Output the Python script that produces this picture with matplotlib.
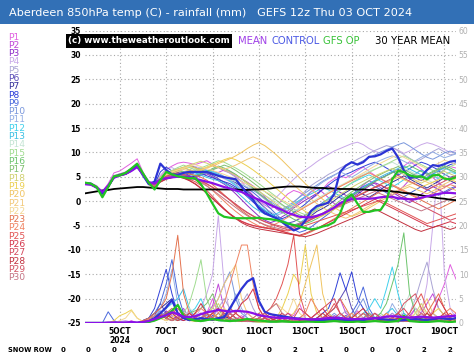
import numpy as np
import matplotlib
matplotlib.use("Agg")
import matplotlib.pyplot as plt
from matplotlib.patches import Rectangle

# ---------------- data ----------------
lead_hours = np.arange(0, 390, 6)          # 6-hourly steps from Oct 3 12z
start_day = 3.5                            # Oct 3 12z as day-of-month
days = start_day + lead_hours / 24.0

tick_days = [5, 7, 9, 11, 13, 15, 17, 19]
tick_labels = ["5OCT\n2024", "7OCT", "9OCT", "11OCT", "13OCT", "15OCT", "17OCT", "19OCT"]

temp_mean = [3.5,3.4,2.8,1.9,3.2,4.8,5.3,5.6,6.2,7.0,5.5,3.9,3.6,
             4.5,4.7,4.9,5.0,5.0,5.0,4.6,4.3,4.0,3.7,3.3,2.9,2.6,
             2.2,1.9,1.3,0.8,0.3,-0.2,-0.8,-1.3,-1.8,-2.4,-2.8,-3.2,-3.3,
             -3.3,-3.0,-2.6,-2.0,-1.3,-0.4,0.1,0.4,0.5,0.5,0.5,0.6,0.8,
             0.9,0.9,0.6,0.5,0.4,0.4,0.7,1.0,1.2,1.5,1.7,1.7,1.6]
temp_control = [3.7,3.6,2.8,1.6,3.0,5.0,5.4,5.7,6.5,7.3,5.3,3.5,4.0,
                7.7,6.4,5.5,5.4,5.8,6.0,6.0,6.0,6.0,5.6,5.2,4.9,4.7,
                4.5,3.0,1.5,0.3,-1.5,-2.5,-3.0,-3.5,-4.3,-5.2,-6.0,-5.5,-4.0,
                -2.0,-1.0,-0.7,-0.3,1.5,6.0,7.3,8.0,7.5,8.0,9.1,9.2,9.6,
                10.3,10.8,9.0,6.3,4.8,4.9,5.1,6.4,7.4,7.2,7.6,8.1,8.3]
temp_gfs_op = [3.8,3.6,2.9,0.8,2.9,5.1,5.3,5.8,6.7,7.7,5.7,3.8,2.4,
               4.3,6.0,5.5,5.1,4.9,4.7,4.7,3.5,1.6,-0.5,-2.5,-3.2,-3.4,
               -3.5,-3.5,-3.5,-3.5,-3.4,-3.6,-3.7,-3.9,-4.2,-4.6,-4.9,-5.2,-5.5,
               -5.8,-5.6,-5.2,-4.9,-4.3,-2.5,0.5,1.4,-0.5,-2.2,-2.2,-1.9,-1.8,
               0.0,4.5,6.2,6.0,5.3,5.0,5.1,4.5,5.3,5.4,4.6,4.5,4.9]
temp_30yr = [1.6,1.8,2.0,2.2,2.3,2.5,2.6,2.7,2.8,2.9,2.9,2.8,2.7,
             2.6,2.5,2.5,2.5,2.4,2.4,2.4,2.4,2.4,2.4,2.4,2.4,2.4,
             2.4,2.3,2.3,2.4,2.4,2.5,2.6,2.8,2.9,3.0,3.0,3.0,2.9,
             2.8,2.7,2.7,2.6,2.6,2.5,2.5,2.5,2.4,2.4,2.3,2.3,2.2,
             2.1,2.0,1.9,1.7,1.6,1.4,1.2,1.0,0.8,0.6,0.5,0.3,0.2]

t01 = [3.8,3.7,3.2,2.0,3.6,5.8,6.2,7.0,7.8,8.7,6.0,3.8,3.4, 5.0,6.5,7.2,7.8,8.0,7.8,7.5,7.9,8.3,7.6,6.9,6.2,5.8, 5.1,4.0,2.6,1.2,0.0,-0.8,-1.5,-1.0,0.3,1.5,2.2,1.8,1.0, 0.4,1.2,2.5,3.8,4.6,5.2,4.8,5.5,6.3,7.0,6.1,5.3,4.6, 3.8,4.5,5.9,7.2,8.1,7.4,6.6,5.5,4.8,5.6,6.5,7.1,6.8]
t02 = [3.5,3.4,2.8,1.7,3.1,5.2,5.6,6.0,6.7,7.6,5.8,3.5,3.0, 4.2,5.0,5.5,6.2,6.8,7.4,7.0,6.3,5.8,5.5,5.9,6.4,6.1, 5.4,4.6,3.9,3.1,2.0,0.9,-0.4,-1.6,-2.4,-2.0,-1.1,-0.2,0.8, 1.9,2.6,1.8,0.7,-0.5,-1.2,-0.4,0.9,2.1,3.3,4.2,3.6,2.8, 1.9,1.2,2.0,3.1,4.4,5.6,6.4,5.8,4.9,3.7,2.9,3.5,4.0]
t03 = [3.4,3.3,2.7,1.5,2.9,4.9,5.3,5.5,6.2,7.0,5.4,3.4,3.1, 4.0,4.6,4.9,5.1,4.8,4.4,4.7,5.3,5.6,5.0,4.2,3.5,2.6, 1.5,0.3,-0.9,-2.0,-3.1,-3.9,-4.4,-4.0,-3.2,-2.5,-1.4,-0.6,0.2, 0.9,1.6,2.4,3.0,2.5,1.8,1.2,0.6,1.4,2.3,3.1,3.8,3.3, 2.6,1.9,1.1,0.4,-0.3,0.5,1.4,2.2,3.0,2.4,1.7,2.3,2.9]
t04 = [3.7,3.6,3.0,1.8,3.2,5.3,5.6,5.9,6.6,7.5,5.9,4.0,3.6, 5.3,6.6,6.9,6.2,5.8,6.4,7.1,6.8,6.2,5.7,5.1,4.6,4.0, 3.3,2.5,1.6,0.9,0.2,-0.6,-0.3,0.8,2.0,3.3,4.5,5.6,6.4, 7.2,8.1,8.9,9.6,10.3,10.8,11.3,11.8,12.1,11.6,10.8,10.2,9.9, 10.4,11.0,10.5,9.8,10.3,11.0,11.6,12.0,11.7,11.2,10.6,10.0,10.4]
t05 = [3.5,3.4,2.9,1.7,3.0,5.0,5.3,5.6,6.3,7.1,5.5,3.7,3.3, 4.6,5.2,5.9,6.5,6.1,5.6,5.2,5.5,6.0,6.6,6.9,6.4,5.7, 4.9,4.1,3.4,2.5,1.4,0.4,-0.5,-1.3,-1.8,-1.2,-0.3,0.9,2.1, 3.2,4.0,4.7,5.5,6.1,6.8,7.4,7.9,8.6,9.2,9.8,10.4,10.9, 11.4,11.1,10.3,9.6,8.8,8.1,8.6,9.3,10.2,10.8,10.1,9.5,9.8]
t06 = [3.6,3.5,2.9,1.6,3.0,5.1,5.4,5.8,6.5,7.2,5.7,3.6,3.3, 4.4,5.1,5.6,5.9,5.6,5.2,5.0,5.4,5.8,5.3,4.6,3.9,3.2, 2.6,2.0,1.1,0.0,-1.0,-1.9,-2.8,-3.5,-4.1,-4.5,-4.2,-3.6,-2.9, -2.0,-1.1,-0.3,0.4,1.1,0.7,0.2,0.9,1.8,2.6,3.4,4.1,4.7, 5.3,5.9,6.5,6.0,5.4,4.8,4.2,4.9,5.6,6.2,5.5,4.9,5.3]
t07 = [3.5,3.4,2.8,1.5,2.8,4.8,5.2,5.5,6.2,7.1,5.5,3.5,3.2, 4.3,5.0,5.4,5.6,5.2,4.9,5.2,5.7,6.1,5.8,5.3,4.9,4.4, 3.8,3.0,2.1,1.0,-0.2,-1.3,-2.4,-3.3,-4.0,-4.6,-5.1,-4.7,-3.9, -3.0,-2.1,-1.5,-0.8,0.1,1.0,1.8,2.5,2.0,1.4,0.8,1.5,2.4, 3.2,3.9,4.5,5.2,4.6,3.9,3.3,2.7,3.4,4.1,4.8,4.2,3.6]
t08 = [3.7,3.6,3.0,1.7,3.1,5.1,5.5,5.8,6.5,7.4,5.8,3.7,3.4, 6.0,7.0,6.2,5.6,5.3,5.6,6.0,5.7,5.2,4.8,4.4,4.0,3.6, 2.9,2.0,0.9,-0.2,-1.2,-2.1,-2.8,-3.2,-3.6,-3.1,-2.3,-1.5,-0.6, 0.5,1.4,2.4,3.3,4.2,4.9,5.5,6.0,6.6,7.1,7.6,8.0,7.5, 6.8,6.1,5.4,5.9,6.7,7.4,8.0,7.6,7.0,6.4,6.9,7.5,7.9]
t09 = [3.6,3.5,2.9,1.8,3.1,5.0,5.4,5.6,6.3,7.2,5.6,3.6,3.3, 4.5,5.2,5.5,5.2,5.0,5.3,5.9,6.3,6.0,5.6,5.3,5.0,4.5, 4.0,3.4,2.7,1.8,0.8,-0.3,-1.5,-2.7,-3.8,-4.9,-5.8,-6.4,-6.0, -5.3,-4.4,-3.5,-2.6,-1.6,-0.6,0.4,1.3,2.2,3.0,3.6,3.0,2.4, 1.7,1.0,0.3,0.9,1.6,2.3,3.0,2.4,1.8,1.2,1.9,2.6,3.1]
t10 = [3.6,3.5,2.9,1.7,3.1,5.1,5.5,5.8,6.5,7.3,5.7,3.7,3.4, 4.7,5.5,6.1,6.6,6.9,6.4,5.9,5.5,5.8,6.2,5.7,5.1,4.6, 4.0,3.5,2.8,2.2,1.5,0.7,-0.1,-0.9,-1.6,-1.0,-0.1,0.8,1.7, 2.5,3.3,4.1,4.8,5.4,6.0,6.6,7.1,7.7,8.3,8.9,9.5,10.1, 10.6,11.1,11.6,12.0,11.3,10.5,9.7,9.0,8.6,9.2,9.9,10.3,9.8]
t11 = [3.5,3.4,2.8,1.6,3.0,5.0,5.4,5.7,6.4,7.2,5.6,3.5,3.1, 4.6,5.4,6.0,5.7,5.4,5.8,6.3,6.7,6.4,5.9,5.4,4.8,4.2, 3.5,2.6,1.6,0.6,-0.4,-1.4,-2.2,-2.9,-2.5,-1.8,-0.9,0.0,1.0, 2.0,3.0,3.9,4.6,5.3,6.0,5.5,4.9,5.6,6.4,7.1,7.8,8.4, 8.9,9.3,8.8,8.2,7.6,8.3,9.0,9.6,10.1,9.5,8.9,9.3,9.7]
t12 = [3.6,3.5,2.9,1.6,3.0,5.0,5.4,5.7,6.4,7.3,5.7,3.7,3.3, 4.2,4.9,5.3,5.6,5.3,5.0,5.4,5.9,6.3,6.0,5.5,4.9,4.1, 3.2,2.2,1.1,0.1,-0.9,-1.8,-2.6,-3.3,-3.9,-4.4,-4.9,-4.5,-3.6, -2.6,-1.5,-0.4,0.6,1.5,2.3,3.0,3.7,4.3,4.9,5.4,4.8,4.1, 3.5,2.9,3.6,4.4,5.1,5.7,6.3,5.8,5.2,4.6,5.3,6.0,5.6]
t13 = [3.5,3.4,2.8,1.7,3.0,5.0,5.3,5.6,6.3,7.2,5.6,3.6,3.2, 4.5,5.0,5.2,5.5,5.9,6.2,5.8,5.3,4.9,4.5,4.2,3.7,3.0, 2.1,1.0,-0.1,-1.2,-2.0,-2.6,-3.0,-2.6,-2.0,-1.4,-0.6,0.2,0.9, 1.5,2.1,2.8,2.3,1.7,1.1,0.5,1.2,2.0,2.8,3.6,4.3,5.0, 5.6,6.1,6.7,7.2,6.6,6.0,5.4,4.8,5.5,6.2,6.8,6.3,5.8]
t14 = [3.6,3.5,3.0,1.8,3.1,5.1,5.5,5.8,6.4,7.3,5.7,3.7,3.3, 4.8,5.6,6.0,6.3,6.7,7.0,6.7,6.3,5.9,5.6,5.2,4.8,4.4, 4.0,3.5,3.0,2.4,1.8,1.2,0.5,-0.2,-0.9,-1.5,-2.0,-1.6,-1.0, -0.3,0.5,1.2,1.9,2.6,3.2,3.8,4.4,5.0,5.5,6.1,6.6,7.0, 7.5,8.0,7.4,6.8,6.2,5.6,5.0,4.4,3.8,4.5,5.2,5.8,6.3]
t15 = [3.7,3.6,3.0,1.5,3.0,5.2,5.6,5.9,6.6,7.5,5.9,3.8,3.5, 5.0,5.8,6.3,6.9,7.4,6.9,6.4,6.8,7.3,7.8,8.3,8.0,7.4, 6.8,6.1,5.3,4.5,3.6,2.7,1.8,0.9,0.0,-0.8,-1.6,-2.3,-2.8, -2.2,-1.4,-0.5,0.4,1.3,2.2,3.0,3.8,4.5,5.2,5.9,6.5,7.1, 7.6,8.2,8.8,9.3,8.7,8.1,7.5,6.9,6.3,5.7,6.4,7.1,7.6]
t16 = [3.5,3.4,2.8,1.4,2.9,4.9,5.3,5.6,6.3,7.2,5.5,3.5,3.1, 4.3,5.1,5.7,6.3,6.0,5.6,5.2,5.6,6.1,6.7,7.2,6.8,6.2, 5.5,4.6,3.7,2.7,1.6,0.6,-0.4,-1.3,-2.2,-3.0,-3.7,-4.2,-4.6, -4.2,-3.6,-2.9,-2.1,-1.3,-0.5,0.3,1.1,1.9,2.6,3.3,4.0,4.6, 5.2,5.8,6.3,6.8,7.3,6.7,6.1,5.5,6.1,6.7,7.3,6.8,6.2]
t17 = [3.6,3.5,2.9,1.5,2.9,5.0,5.4,5.7,6.4,7.2,5.6,3.6,3.2, 4.4,5.2,5.8,6.4,6.9,7.3,6.9,6.4,6.0,6.4,6.9,7.4,7.0, 6.3,5.5,4.7,3.8,2.9,2.0,1.1,0.2,-0.7,-1.5,-2.2,-2.8,-3.3, -3.7,-3.2,-2.5,-1.7,-0.8,0.1,1.0,1.9,2.7,3.5,4.2,4.9,5.5, 6.1,6.6,7.1,6.5,5.9,5.3,4.7,5.3,5.9,6.5,7.0,6.4,5.9]
t18 = [3.7,3.6,3.0,1.7,3.1,5.1,5.5,5.8,6.5,7.4,5.8,3.8,3.4, 4.9,5.7,6.2,6.6,7.0,7.4,7.8,8.2,7.8,7.3,6.9,6.4,5.9, 5.3,4.6,3.8,3.0,2.1,1.2,0.3,-0.6,-1.5,-2.3,-3.0,-3.6,-3.1, -2.5,-1.8,-1.0,-0.2,0.6,1.4,2.1,2.8,3.5,4.1,4.7,5.2,5.7, 6.2,6.7,6.1,5.5,4.9,4.3,3.7,4.3,4.9,5.5,6.1,5.6,5.1]
t19 = [3.6,3.5,2.9,1.6,3.0,5.0,5.4,5.7,6.4,7.3,5.7,3.6,3.3, 4.6,5.4,6.0,6.5,6.9,6.5,6.1,6.5,7.0,7.5,8.0,8.5,8.9, 8.5,7.9,7.2,6.4,5.5,4.6,3.6,2.6,1.6,0.6,-0.4,-1.3,-2.1, -2.8,-3.4,-3.0,-2.4,-1.7,-1.0,-0.3,0.4,1.1,1.7,2.3,2.9,3.4, 3.9,4.4,4.9,4.4,3.9,3.4,2.9,3.4,3.9,4.4,4.9,4.4,4.0]
t20 = [3.6,3.5,2.9,1.6,3.0,5.1,5.5,5.8,6.5,7.3,5.7,3.7,3.3, 4.5,5.3,5.9,6.4,6.8,7.2,6.8,6.4,6.8,7.2,7.7,8.2,8.7, 9.3,10.0,10.8,11.5,12.0,11.4,10.5,9.5,8.4,7.2,6.0,4.8,3.6, 2.5,1.4,0.4,-0.5,-1.3,-2.0,-2.6,-3.1,-2.7,-2.1,-1.4,-0.7,0.0, 0.7,1.3,1.9,2.5,3.0,2.5,2.0,1.5,2.1,2.7,3.2,2.7,2.2]
t21 = [3.5,3.4,2.8,1.6,3.0,5.0,5.4,5.6,6.3,7.2,5.6,3.6,3.2, 4.4,5.1,5.6,6.1,6.5,6.2,5.9,6.3,6.8,7.3,7.0,6.6,6.9, 7.4,8.0,8.6,9.1,8.6,7.9,7.1,6.2,5.3,4.3,3.3,2.3,1.3, 0.4,-0.5,-1.3,-2.0,-2.6,-3.1,-3.5,-3.0,-2.4,-1.7,-1.0,-0.3,0.4, 1.1,1.7,2.3,2.9,3.4,3.9,4.4,3.9,3.4,2.9,3.5,4.1,4.6]
t22 = [3.7,3.6,3.0,1.7,3.1,5.2,5.5,5.9,6.6,7.4,5.8,3.8,3.4, 4.7,5.5,6.0,6.4,6.8,7.2,7.5,7.1,6.7,6.3,5.9,5.5,5.0, 4.5,4.0,3.5,3.0,2.5,2.0,1.4,0.8,0.2,-0.4,-1.0,-1.6,-1.1, -0.5,0.2,0.9,1.6,2.3,3.0,3.7,4.4,5.1,5.8,6.5,7.2,7.8, 8.4,9.0,9.5,9.0,8.4,7.8,7.2,6.6,7.2,7.8,8.4,8.0,7.5]
t23 = [3.6,3.5,2.9,1.6,3.0,5.0,5.4,5.7,6.4,7.3,5.7,3.6,3.2, 4.3,5.0,5.3,5.6,5.9,5.6,5.3,4.9,4.3,3.4,2.4,1.3,0.2, -0.9,-1.9,-2.8,-3.6,-4.3,-4.9,-5.4,-5.8,-6.2,-6.6,-6.9,-7.2,-6.8, -6.3,-5.7,-5.0,-4.3,-3.6,-2.9,-2.2,-1.5,-0.8,-0.1,0.6,1.3,2.0, 2.6,3.2,2.6,2.0,1.4,0.8,0.2,-0.4,-1.0,-1.6,-1.0,-0.4,0.2]
t24 = [3.5,3.4,2.8,1.5,2.9,4.9,5.3,5.6,6.3,7.1,5.5,3.5,3.1, 4.2,4.8,5.2,5.5,5.3,5.0,4.6,4.0,3.2,2.2,1.1,0.0,-1.1, -2.1,-3.0,-3.8,-4.5,-5.1,-5.5,-5.1,-4.6,-4.0,-3.3,-2.6,-1.9,-1.2, -0.5,0.2,0.9,1.6,2.3,3.0,3.6,4.2,4.8,5.3,5.8,5.2,4.6, 4.0,3.4,2.8,2.2,1.6,1.0,0.4,1.0,1.6,2.2,2.8,3.4,3.0]
t25 = [3.6,3.5,2.9,1.6,3.0,5.0,5.4,5.7,6.4,7.3,5.6,3.6,3.2, 4.1,4.7,5.0,5.2,4.9,4.5,4.0,3.2,2.2,1.0,-0.3,-1.5,-2.6, -3.5,-4.2,-4.7,-5.0,-5.2,-5.4,-5.6,-5.8,-6.0,-6.1,-5.8,-5.4,-5.0, -4.6,-4.2,-3.8,-3.4,-3.0,-2.6,-2.2,-1.8,-1.4,-1.0,-0.6,-0.2,0.2, -0.4,-1.0,-1.6,-2.2,-2.8,-3.4,-4.0,-4.6,-4.2,-3.8,-3.4,-3.0,-2.6]
t26 = [3.5,3.4,2.8,1.5,2.9,4.9,5.3,5.5,6.2,7.1,5.5,3.5,3.1, 4.0,4.6,4.9,5.1,4.8,4.3,3.6,2.7,1.7,0.6,-0.5,-1.6,-2.6, -3.4,-4.1,-4.6,-5.0,-5.3,-5.5,-5.7,-5.9,-6.2,-6.5,-6.8,-7.0,-6.6, -6.1,-5.6,-5.0,-4.4,-3.8,-3.2,-2.6,-2.0,-1.4,-0.8,-0.2,0.4,-0.2, -0.8,-1.4,-2.0,-2.6,-3.2,-3.8,-4.4,-5.0,-5.4,-5.0,-4.6,-4.2,-4.6]
t27 = [3.6,3.5,2.9,1.6,3.0,5.0,5.4,5.7,6.4,7.3,5.7,3.7,3.3, 4.4,5.1,5.5,5.8,5.5,5.1,4.7,4.2,3.6,2.9,2.1,1.2,0.3, -0.6,-1.5,-2.3,-3.0,-3.6,-4.2,-4.7,-5.1,-5.5,-5.9,-5.5,-5.0,-4.4, -3.8,-3.2,-2.6,-2.0,-1.4,-0.8,-0.2,0.4,1.0,1.6,2.2,2.8,3.3, 2.7,2.1,1.5,0.9,0.3,-0.3,-0.9,-1.5,-2.1,-2.7,-3.3,-3.9,-3.5]
t28 = [3.5,3.4,2.8,1.5,2.9,4.9,5.3,5.6,6.2,7.0,5.4,3.4,3.0, 3.9,4.5,4.8,5.0,4.7,4.2,3.5,2.6,1.6,0.5,-0.6,-1.7,-2.7, -3.6,-4.4,-5.0,-5.4,-5.7,-5.9,-6.1,-6.3,-6.5,-6.7,-6.9,-7.1,-7.3, -7.0,-6.6,-6.1,-5.6,-5.1,-4.6,-4.1,-3.6,-3.1,-2.6,-2.1,-1.6,-2.2, -2.8,-3.4,-4.0,-4.6,-5.2,-5.8,-6.2,-5.8,-5.4,-5.0,-5.4,-5.8,-5.4]
t29 = [3.6,3.5,2.9,1.6,3.0,5.0,5.4,5.7,6.4,7.2,5.6,3.6,3.2, 4.3,5.0,5.4,5.7,5.4,5.0,4.6,4.1,3.5,2.8,2.0,1.1,0.2, -0.7,-1.6,-2.4,-3.1,-3.7,-4.2,-4.6,-4.9,-5.2,-5.5,-5.2,-4.8,-4.3, -3.7,-3.1,-2.5,-1.9,-1.3,-0.7,-0.1,0.5,1.1,1.7,2.3,2.9,3.5, 4.1,4.7,5.3,4.7,4.1,3.5,2.9,2.3,2.9,3.5,4.1,4.7,5.2]
t30 = [3.5,3.4,2.8,1.5,2.9,4.9,5.3,5.6,6.3,7.1,5.5,3.5,3.1, 4.2,4.9,5.3,5.6,5.3,4.9,4.4,3.8,3.1,2.3,1.4,0.5,-0.4, -1.3,-2.2,-3.0,-3.7,-4.3,-4.8,-5.2,-5.5,-5.8,-5.4,-5.0,-4.5,-4.0, -3.5,-3.0,-2.5,-2.0,-1.5,-1.0,-0.5,0.0,0.5,1.0,1.5,2.0,1.5, 1.0,0.5,0.0,-0.5,-1.0,-1.5,-2.0,-1.5,-1.0,-0.5,0.0,0.5,1.0]

rain_mean = [0,0,0,0,0.1,0.1,0.1,0.1,0.2,0.1,0.2,0.4,0.8, 1.2,1.6,2.2,1.8,1.3,1.2,1.4,1.8,2.2,2.4,2.7,2.5,2.3, 2.5,2.4,2.3,2.0,1.6,1.4,1.2,1.1,1.0,1.0,0.9,0.8,0.8, 0.7,0.8,0.9,1.0,1.1,1.0,0.9,0.8,0.8,0.9,0.9,1.0,1.1, 1.3,1.4,1.3,1.2,1.1,1.2,1.3,1.2,1.1,1.2,1.3,1.4,1.5]
rain_control = [0,0,0,0,0,0,0,0,0,0,0.1,0.3,1.0, 2.0,3.2,4.7,2.0,1.0,0.6,0.8,1.0,0.8,0.7,1.0,1.2,3.0, 5.0,7.0,8.5,9.2,4.5,2.3,1.8,1.6,1.4,1.2,1.0,0.9,0.8, 0.7,0.6,0.6,0.7,0.8,0.7,0.6,0.6,0.5,0.6,0.8,1.0,0.8, 0.7,0.6,0.5,0.6,0.7,0.8,0.7,0.6,0.8,1.0,0.9,0.8,1.0]
rain_gfs_op = [0,0,0,0,0,0,0,0,0,0,0.1,0.2,0.5, 1.0,1.6,2.5,3.7,1.5,0.8,0.5,0.4,0.6,0.8,0.6,0.5,0.4, 0.5,0.6,0.8,0.6,0.5,0.4,0.3,0.3,0.4,0.3,0.2,0.2,0.3, 0.3,0.2,0.2,0.3,0.4,0.3,0.2,0.2,0.3,0.2,0.3,0.4,0.3, 0.2,0.3,0.4,1.5,0.4,0.3,0.2,0.2,0.3,0.4,0.3,0.2,0.3]

r01 = [0,0,0,0,0,0.3,0,0,0.5,0,0,0,0.8, 1.5,2.0,1.0,0.5,1.2,2.5,1.0,0.5,2.0,5.0,2.0,1.0,0.5, 0.8,1.5,0.5,0.2,0.5,1.0,0.5,0.3,1.0,2.0,1.5,4.0,1.0, 0.5,0.3,0.8,1.5,0.5,0.2,0.5,1.0,2.5,1.0,0.5,0.3,0.8, 1.5,0.5,0.2,0.5,1.0,3.0,2.0,1.0,2.5,5.0,8.0,12.0,9.0]
r02 = [0,0,0,0,0,0,0,0.2,0,0,0,0.5,1.0, 2.0,1.0,0.5,1.5,3.0,1.0,0.5,1.0,2.0,3.5,8.0,3.0,1.0, 0.5,1.0,2.0,1.0,0.3,0.2,0.5,1.0,0.5,0.3,0.5,1.0,0.5, 0.2,0.5,1.0,2.0,3.0,5.0,2.0,1.0,0.5,1.0,0.5,0.3,0.5, 1.0,2.0,1.0,0.5,1.5,3.0,2.0,4.0,6.0,3.0,1.5,1.0,2.0]
r03 = [0,0,0,0,0,0,0,0,0,0,0.3,0.5,0.8, 1.0,2.5,1.5,0.8,0.5,1.0,2.0,1.0,0.5,1.5,3.0,1.5,0.8, 0.5,0.3,0.5,1.0,0.5,0.2,0.1,0.3,0.5,0.2,0.1,0.3,0.5, 1.0,0.5,0.3,0.8,1.5,1.0,0.5,0.3,0.5,1.0,2.0,1.0,0.5, 0.3,0.5,1.0,0.5,0.3,1.0,2.0,1.0,0.5,0.8,1.5,1.0,0.5]
r04 = [0,0,0,0,0,0,0.3,0.5,0.2,0,0,0.3,0.5, 1.0,0.5,1.5,2.0,1.0,0.5,1.0,3.0,6.0,10.0,22.0,8.0,2.0, 1.0,0.5,0.3,0.5,1.0,0.5,0.2,0.1,0.3,0.5,0.3,0.2,0.5, 1.0,2.0,1.0,0.5,0.3,0.5,1.0,0.5,0.3,0.5,1.0,2.0,1.5, 0.8,0.5,1.0,2.0,1.0,0.5,2.0,8.0,20.0,33.0,10.0,3.0,1.0]
r05 = [0,0,0,0,0,0,0,0,0,0,0,0.2,0.5, 1.5,1.0,0.5,1.0,2.5,1.5,0.5,1.0,2.0,1.0,3.0,5.0,3.0, 2.0,4.0,6.0,3.0,1.0,0.5,0.3,0.5,1.0,0.5,0.3,0.2,0.5, 0.3,1.0,0.5,0.3,0.5,1.5,2.5,1.0,0.5,0.3,1.0,0.5,0.3, 1.0,2.0,1.0,0.5,2.0,5.0,9.0,12.5,7.0,3.0,1.5,1.0,0.5]
r06 = [0,0,0,0,0,0,0,0,0,0,0.2,0.5,1.5, 4.0,2.0,1.0,0.5,1.0,2.0,1.0,0.5,0.8,1.5,1.0,0.5,0.3, 0.5,1.0,0.5,0.3,0.2,0.5,0.3,0.2,0.1,0.3,0.5,1.0,0.5, 0.3,0.5,1.0,2.0,3.0,5.0,7.0,3.0,1.0,0.5,0.3,0.5,1.0, 0.5,0.3,0.5,1.0,0.5,0.3,0.5,1.0,2.0,1.0,0.5,0.3,0.5]
r07 = [0,0,0,0,0,0,0,0,0,0,0.5,1.0,2.0, 3.0,4.0,5.0,2.0,1.0,0.5,1.0,2.0,1.0,0.5,1.0,1.5,0.8, 0.5,0.3,0.5,1.0,0.5,0.3,0.2,0.1,0.2,0.3,0.5,0.3,0.2, 0.5,1.0,0.5,0.3,0.5,1.0,1.5,1.0,0.5,0.3,0.5,1.0,0.5, 0.3,0.5,1.0,1.5,1.0,0.5,0.3,0.5,1.0,0.5,0.3,0.5,0.8]
r08 = [0,0,0,0,0,0,0,0,0,0,0.5,1.0,3.0, 7.0,11.0,6.0,2.0,1.0,0.5,1.0,2.0,1.5,1.0,0.5,1.0,2.0, 1.0,0.5,0.3,0.5,1.0,0.5,0.3,0.5,1.0,0.5,0.3,0.5,1.0, 0.5,1.0,2.0,3.0,6.0,10.3,6.8,10.5,5.0,3.0,1.0,0.5,0.3, 0.5,1.0,2.0,1.0,0.5,0.3,0.5,1.0,0.5,0.3,0.5,1.0,0.5]
r09 = [0,0,0,0,2.3,0.5,0,0,0,0,0.5,1.0,2.0, 4.0,8.0,13.0,6.0,2.0,1.0,0.5,1.0,2.0,1.0,0.5,0.3,0.5, 1.0,0.5,0.3,0.5,0.2,0.1,0.3,0.5,0.3,0.2,0.5,1.0,0.5, 0.3,0.5,1.0,0.5,0.3,0.5,1.0,2.0,4.0,7.4,3.0,1.0,0.5, 0.3,0.5,1.0,0.5,0.3,0.5,1.0,0.5,0.3,0.5,1.0,0.5,0.3]
r10 = [0,0,0,0,0,0,0,0,0,0,0.3,0.8,1.5, 2.5,1.0,0.5,1.0,2.0,1.0,0.5,1.0,2.0,3.0,5.0,8.0,10.5, 5.0,2.0,1.0,0.5,0.3,0.5,1.0,0.5,0.3,0.2,0.3,0.5,1.0, 0.5,0.3,0.5,1.0,2.0,1.0,0.5,1.0,3.0,5.0,2.0,1.0,0.5, 0.3,0.5,1.0,2.0,1.0,0.5,0.3,0.5,1.0,0.5,0.3,0.5,1.0]
r11 = [0,0,0,0,0,0,0,0,0,0,0.3,0.5,1.0, 3.0,6.0,11.0,4.0,1.5,1.0,0.5,1.0,1.5,1.0,0.5,1.0,2.0, 6.0,3.0,1.0,0.5,0.3,0.5,0.3,0.2,0.5,0.3,0.2,0.5,0.3, 0.5,1.0,0.5,0.3,0.5,1.0,0.5,0.3,0.5,1.0,2.0,1.0,0.5, 1.0,4.0,2.0,1.0,0.5,0.3,0.5,1.0,0.5,0.3,0.5,1.0,0.5]
r12 = [0,0,0,0,0,0,0,0,0,0,0.2,0.5,0.8, 1.5,2.0,1.0,0.5,1.0,2.0,3.0,5.0,2.0,1.0,0.5,1.0,0.5, 0.3,0.5,1.0,0.5,0.3,0.2,0.1,0.3,0.5,0.3,0.2,0.3,0.5, 1.0,0.5,0.3,0.5,1.0,0.5,0.3,0.5,1.0,2.0,3.0,5.0,3.0, 7.0,11.5,6.0,2.0,1.0,0.5,0.3,0.5,1.0,0.5,0.3,0.5,1.0]
r13 = [0,0,0,0,0,0,0,0,0,0,0.3,0.5,1.0, 2.0,3.0,4.0,5.0,7.0,3.0,1.0,0.5,1.0,2.0,1.0,0.5,0.3, 0.5,1.0,0.5,0.3,0.2,0.3,0.5,0.3,0.2,0.5,1.0,0.5,0.3, 0.2,0.5,1.0,2.0,1.0,0.5,0.3,0.5,1.0,0.5,0.3,0.5,1.0, 2.0,3.0,1.5,1.0,0.5,0.3,0.5,1.0,0.5,0.3,0.5,0.8,0.5]
r14 = [0,0,0,0,0,0,0,0,0,0,0,0.3,0.5, 1.0,2.0,1.0,0.5,1.0,3.0,2.0,1.0,0.5,1.0,0.5,0.3,0.5, 1.0,0.5,0.3,0.2,0.3,0.5,0.3,0.2,0.1,0.3,0.5,0.3,0.2, 0.3,0.5,1.0,0.5,0.3,0.5,1.0,2.0,1.0,0.5,0.3,0.5,1.0, 0.5,0.3,0.5,3.0,6.0,3.0,1.0,0.5,0.3,0.5,1.0,0.5,0.3]
r15 = [0,0,0,0,0,0,0,0,0,0,0.3,0.5,1.0, 2.0,1.0,0.5,1.0,2.0,4.0,8.0,13.0,5.0,2.0,1.0,0.5,0.3, 0.5,1.0,0.5,0.3,0.2,0.3,0.5,0.3,0.2,0.1,0.3,0.5,0.3, 0.2,0.3,0.5,1.0,0.5,0.3,0.5,1.0,0.5,0.3,0.5,1.0,2.0, 1.0,0.5,0.3,0.5,1.0,0.5,0.3,0.5,1.0,0.5,0.3,0.5,0.8]
r16 = [0,0,0,0,0,0,0,0,0,0,0.2,0.5,0.8, 1.5,1.0,0.5,1.0,2.0,1.0,0.5,0.3,0.5,1.0,2.0,1.0,0.5, 0.3,0.5,1.0,0.5,0.3,0.2,0.3,0.5,0.3,0.2,0.1,0.3,0.5, 0.3,0.2,0.5,1.0,0.5,0.3,0.5,1.0,0.5,0.3,0.5,1.0,2.0, 4.0,8.0,12.0,18.5,6.0,2.0,1.0,0.5,0.3,0.5,1.0,0.5,0.3]
r17 = [0,0,0,0,0,0,0,0,0,0,0.3,0.5,0.5, 1.0,1.5,1.0,0.5,1.0,2.0,2.5,3.0,4.0,6.0,3.0,1.0,0.5, 0.5,0.3,0.5,1.0,0.5,0.3,0.2,0.1,0.2,0.3,0.5,0.3,0.2, 0.5,1.0,0.5,0.3,0.5,1.0,0.5,0.3,0.5,1.0,2.0,1.0,0.5, 0.3,0.5,1.0,0.5,0.3,0.5,1.0,2.0,1.0,0.5,0.3,0.5,1.0]
r18 = [0,0,0,0,0,0,0,0,0,0,0.2,0.3,0.5, 1.0,0.5,1.0,2.0,1.0,0.5,1.0,2.0,1.0,2.0,4.0,2.0,1.0, 0.5,0.3,0.5,0.3,0.2,0.1,0.3,0.5,1.0,0.5,0.3,0.2,0.3, 0.5,0.3,0.2,0.5,1.0,0.5,0.3,0.5,1.0,2.0,1.0,0.5,0.3, 0.5,1.0,0.5,0.3,0.5,2.0,4.0,2.0,1.0,0.5,0.3,0.5,0.8]
r19 = [0,0,0,0,0,0.5,1.5,2.0,2.7,1.0,0.3,0.5,0.8, 1.5,1.0,0.5,1.0,2.0,1.0,0.5,1.0,2.0,1.0,0.5,3.0,2.0, 1.0,0.5,0.3,0.5,1.0,0.5,0.3,1.0,3.0,6.0,10.0,8.0,16.0, 6.0,2.0,1.0,0.5,0.3,0.5,1.0,0.5,0.3,0.5,1.0,0.5,0.3, 0.5,1.0,2.0,1.0,0.5,0.3,0.5,1.0,2.0,3.0,1.5,1.0,0.5]
r20 = [0,0,0,0,0,0,0,0,0,0,0,0.3,0.5, 1.0,0.5,1.0,2.0,1.0,0.5,0.3,0.5,1.0,2.0,1.0,0.5,0.3, 0.5,1.0,0.5,0.3,0.2,0.5,1.0,0.5,0.3,1.0,2.0,4.0,8.0, 12.0,16.0,6.0,2.0,1.0,0.5,0.3,0.5,1.0,0.5,0.3,0.5,1.0, 2.0,1.0,0.5,0.3,0.5,1.0,2.0,1.0,0.5,0.3,0.5,1.0,0.5]
r21 = [0,0,0,0,0,0,0,0,0,0,0.2,0.5,1.0, 2.0,1.0,0.5,1.0,2.0,1.0,0.5,1.0,2.0,3.0,5.0,8.0,10.0, 12.0,5.0,2.0,1.0,0.5,0.3,0.5,1.0,0.5,0.3,0.5,1.0,2.0, 1.0,0.5,0.3,0.5,1.0,0.5,0.3,0.5,1.0,2.0,1.0,0.5,0.3, 0.5,1.0,0.5,0.3,0.5,1.0,3.0,5.0,2.0,1.0,0.5,0.3,0.5]
r22 = [0,0,0,0,0,0,0.5,1.0,2.5,1.0,0.3,0.5,0.5, 1.0,0.5,1.0,2.0,1.0,0.5,1.0,2.0,1.0,0.5,1.0,3.0,2.0, 1.0,0.5,0.3,0.5,1.0,2.0,3.0,4.0,3.0,2.0,5.0,2.0,1.0, 0.5,0.3,0.5,1.0,0.5,0.3,0.5,1.0,2.0,1.0,0.5,0.3,0.5, 1.0,0.5,0.3,0.5,1.0,2.0,3.0,2.0,1.0,0.5,0.3,0.5,0.8]
r23 = [0,0,0,0,0,0,0,0,0,0,0.5,1.0,2.0, 3.0,5.0,10.0,18.0,6.0,2.0,1.0,0.5,1.0,2.0,1.0,0.5,1.0, 2.0,1.0,0.5,0.3,0.5,1.0,2.0,1.0,0.5,0.3,0.5,1.0,0.5, 0.3,0.5,1.0,2.0,3.0,5.0,3.0,1.0,0.5,0.3,0.5,1.0,0.5, 0.3,0.5,1.0,0.5,0.3,0.5,1.0,2.0,4.0,6.0,3.0,1.0,0.5]
r24 = [0,0,0,0,0,0,0,0,0,0,0.3,0.8,1.5, 2.0,1.0,0.5,1.0,2.0,1.0,2.0,3.0,2.0,1.0,2.0,4.0,8.0, 12.0,16.0,16.0,8.0,3.0,1.0,0.5,1.0,2.0,1.0,0.5,1.0,2.0, 5.0,3.0,1.0,0.5,0.3,0.5,1.0,2.0,1.0,0.5,0.3,0.5,1.0, 2.0,1.0,0.5,0.3,0.5,1.0,2.0,1.0,0.5,1.0,2.0,3.0,2.0]
r25 = [0,0,0,0,0,0,0,0,0,0,0.3,0.5,1.0, 1.5,1.0,2.0,3.0,1.5,1.0,0.5,1.0,2.0,1.0,0.5,1.0,2.0, 1.0,0.5,0.3,0.5,1.0,2.0,3.0,5.0,8.0,12.0,18.0,6.0,2.0, 1.0,0.5,1.0,2.0,4.0,2.0,1.0,0.5,0.3,0.5,1.0,2.0,1.0, 0.5,0.3,0.5,1.0,2.0,4.0,6.0,3.0,1.0,0.5,1.0,2.0,1.0]
r26 = [0,0,0,0,0,0,0,0,0,0,0.3,0.5,0.8, 1.0,2.0,1.0,0.5,1.0,2.0,1.0,0.5,1.0,2.0,3.0,2.0,1.0, 2.0,4.0,5.0,7.0,3.0,1.0,0.5,1.0,2.0,1.0,0.5,0.3,0.5, 1.0,2.0,3.0,1.5,1.0,0.5,0.3,0.5,1.0,2.0,1.0,0.5,0.3, 0.5,1.0,2.0,1.0,0.5,0.3,0.5,1.0,2.0,5.0,3.0,1.0,0.5]
r27 = [0,0,0,0,0,0,0,0,0,0,0.2,0.5,1.0, 2.0,1.0,0.5,1.0,2.0,1.0,0.5,1.0,2.0,1.0,0.5,1.0,3.0, 2.0,1.0,0.5,0.3,0.5,1.0,0.5,0.3,1.0,2.0,1.0,3.0,2.0, 1.0,2.0,3.0,4.0,5.0,2.0,1.0,0.5,0.3,0.5,1.0,0.5,0.3, 0.5,1.0,2.0,3.0,1.5,1.0,0.5,0.3,0.5,1.0,2.0,1.0,0.5]
r28 = [0,0,0,0,0,0,0,0,0,0,0.3,0.5,1.0, 1.5,1.0,2.0,1.0,0.5,1.0,2.0,4.0,2.0,1.0,0.5,1.0,2.0, 1.0,0.5,0.3,0.5,1.0,2.0,1.0,0.5,0.3,0.5,1.0,0.5,0.3, 0.5,1.0,2.0,1.0,0.5,0.3,0.5,1.0,2.0,3.0,1.5,1.0,0.5, 0.3,0.5,1.0,0.5,0.3,0.5,1.0,2.0,1.0,0.5,0.3,0.5,1.0]
r29 = [0,0,0,0,0,0,0,0,0,0,0.2,0.5,0.8, 1.0,2.0,3.0,1.5,1.0,0.5,1.0,2.0,1.0,0.5,1.0,2.0,1.0, 0.5,0.3,0.5,1.0,2.0,1.0,0.5,0.3,0.5,1.0,0.5,0.3,0.5, 1.0,0.5,0.3,0.5,1.0,2.0,1.0,0.5,0.3,0.5,1.0,2.0,1.0, 0.5,1.0,2.0,4.0,5.0,6.0,3.0,1.0,0.5,0.3,0.5,1.0,0.5]
r30 = [0,0,0,0,0,0,0,0,0,0,0.2,0.5,1.0, 2.0,1.0,0.5,1.0,2.0,1.0,0.5,1.0,2.0,1.0,0.5,1.0,2.0, 1.0,0.5,0.3,0.5,1.0,2.0,3.0,4.0,2.0,1.0,0.5,0.3,0.5, 1.0,0.5,0.3,0.5,1.0,0.5,0.3,0.5,1.0,2.0,1.0,0.5,0.3, 0.5,1.0,0.5,0.3,0.5,1.0,2.0,1.0,0.5,0.3,0.5,1.0,0.5]

member_names = ["P%d" % k for k in range(1, 31)]
member_colors = ["#e060e0", "#c048d8", "#8e2cc8", "#c8a8e8", "#aaa4d4",
                 "#5a4cb8", "#34309a", "#3040d8", "#4a68dc", "#7896dc",
                 "#94aee4", "#40d0ec", "#3cc0e4", "#c4e4d4", "#a0dc90",
                 "#6cc46c", "#80c070", "#d0d070", "#ecd050", "#f0c460",
                 "#f2c878", "#f4d894", "#e4724e", "#f08462", "#e25454",
                 "#d4344a", "#d4485c", "#c2303e", "#d25464", "#c47484"]

member_temps = [t01, t02, t03, t04, t05, t06, t07, t08, t09, t10,
                t11, t12, t13, t14, t15, t16, t17, t18, t19, t20,
                t21, t22, t23, t24, t25, t26, t27, t28, t29, t30]
member_rain = [r01, r02, r03, r04, r05, r06, r07, r08, r09, r10,
               r11, r12, r13, r14, r15, r16, r17, r18, r19, r20,
               r21, r22, r23, r24, r25, r26, r27, r28, r29, r30]

snow_row = [0, 0, 0, 0, 0, 0, 0, 0, 0, 2, 1, 0, 0, 0, 2, 2]

temp_ticks = list(range(-25, 40, 5))
rain_offset = 25   # rainfall axis 0 sits at temperature -25

# ---------------- figure ----------------
W, H = 474, 355
fig = plt.figure(figsize=(W / 100, H / 100), dpi=100)
fig.patch.set_facecolor("white")

def fx(px):
    return px / W

def fy(py):
    return 1 - py / H

ax = fig.add_axes([fx(85), fy(323), fx(456) - fx(85), fy(30.6) - fy(323)])
ax.set_xlim(3.5, 19.5)
ax.set_ylim(-25, 35)
for s in ax.spines.values():
    s.set_visible(False)

grid_kw = dict(color="#a8a8a8", lw=0.8, ls=(0, (1, 2.2)), zorder=0)
for v in temp_ticks:
    ax.axhline(v, **grid_kw)
for d in tick_days:
    ax.axvline(d, **grid_kw)

ax.set_yticks(temp_ticks)
ax.set_yticklabels([str(v) for v in temp_ticks], fontsize=5.5, fontweight="bold")
ax.tick_params(axis="y", length=0, pad=3)
ax.set_xticks(tick_days)
ax.set_xticklabels(tick_labels, fontsize=5.5, fontweight="bold", linespacing=0.95)
ax.tick_params(axis="x", length=0, pad=3)

ax2 = ax.twinx()
ax2.set_ylim(-25 + rain_offset, 35 + rain_offset)
for s in ax2.spines.values():
    s.set_visible(False)
rain_ticks = [v + rain_offset for v in temp_ticks]
ax2.set_yticks(rain_ticks)
ax2.set_yticklabels([str(v) for v in rain_ticks], fontsize=5.5, color="#b0b0b0")
ax2.tick_params(axis="y", length=0, pad=2)

# rainfall (drawn on the rain axis)
for vals, col in zip(member_rain, member_colors):
    ax2.plot(days, vals, color=col, lw=0.7, zorder=2)
ax2.plot(days, rain_control, color="#2c34d4", lw=1.6, zorder=4)
ax2.plot(days, rain_gfs_op, color="#22c422", lw=1.6, zorder=4)
ax2.plot(days, rain_mean, color="#8a10e8", lw=1.6, zorder=5)

# temperatures
for vals, col in zip(member_temps, member_colors):
    ax2.plot(days, np.array(vals) + rain_offset, color=col, lw=0.7, zorder=2)
ax2.plot(days, np.array(temp_30yr) + rain_offset, color="black", lw=1.3, zorder=4)
ax2.plot(days, np.array(temp_control) + rain_offset, color="#2c34d4", lw=1.6, zorder=5)
ax2.plot(days, np.array(temp_mean) + rain_offset, color="#8a10e8", lw=1.6, zorder=5)
ax2.plot(days, np.array(temp_gfs_op) + rain_offset, color="#22c422", lw=1.6, zorder=6)

# title band
fig.patches.append(Rectangle((0, fy(24)), 1, 1 - fy(24), transform=fig.transFigure,
                             facecolor="#3270b6", edgecolor="none", zorder=0))
fig.text(fx(9), fy(12.5), "Aberdeen 850hPa temp (C) - rainfall (mm)   GEFS 12z Thu 03 OCT 2024",
         color="white", fontsize=8.15, va="center", ha="left")

# header key
fig.text(fx(68), fy(41), "(c) www.theweatheroutlook.com", color="white", fontsize=6.3,
         fontweight="bold", va="center", ha="left",
         bbox=dict(boxstyle="square,pad=0.25", facecolor="black", edgecolor="none"))
fig.text(fx(238), fy(41.5), "MEAN", color="#a040e8", fontsize=7.2, va="center", ha="left")
fig.text(fx(272), fy(41.5), "CONTROL", color="#4a58e4", fontsize=7.2, va="center", ha="left")
fig.text(fx(323), fy(41.5), "GFS OP", color="#38c238", fontsize=7.2, va="center", ha="left")
fig.text(fx(375), fy(41.5), "30 YEAR MEAN", color="black", fontsize=7.3, va="center", ha="left")

# member legend
for k, (name, col) in enumerate(zip(member_names, member_colors)):
    fig.text(fx(8), fy(37 + k * 8.3), name, color=col, fontsize=6.6, va="center", ha="left")

# snow row
fig.text(fx(8), fy(350), "SNOW ROW", fontsize=4.8, fontweight="bold", va="center", ha="left")
for k, v in enumerate(snow_row):
    fig.text(fx(62.7 + k * 25.8), fy(350), str(v), fontsize=5, fontweight="bold",
             va="center", ha="center")

fig.savefig("out.png", dpi=100)
